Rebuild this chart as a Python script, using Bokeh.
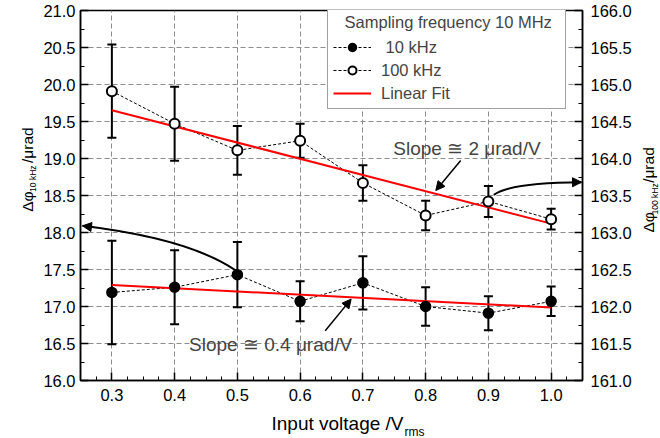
import math
from bokeh.plotting import figure
from bokeh.layouts import row, column
from bokeh.models import (Range1d, LinearAxis, Whisker, ColumnDataSource, Legend, LegendItem,
                          Label, Arrow, NormalHead, TeeHead, FixedTicker, PrintfTickFormatter)
from bokeh.embed import file_html
from bokeh.resources import INLINE

# ---------------- data ----------------
voltage = [0.3, 0.4, 0.5, 0.6, 0.7, 0.8, 0.9, 1.0]
phi_10k = [17.19, 17.26, 17.43, 17.07, 17.32, 17.00, 16.91, 17.07]
err_10k = [0.70, 0.50, 0.44, 0.27, 0.36, 0.26, 0.23, 0.20]
phi_100k = [164.91, 164.47, 164.11, 164.24, 163.67, 163.23, 163.42, 163.18]
err_100k = [0.63, 0.50, 0.33, 0.23, 0.24, 0.20, 0.21, 0.14]
fit_10k = [17.42, -0.434]    # intercept, slope
fit_100k = [165.31, -2.19]   # intercept, slope

x_ticks = [0.3, 0.4, 0.5, 0.6, 0.7, 0.8, 0.9, 1.0]
left_ticks = [16.0, 16.5, 17.0, 17.5, 18.0, 18.5, 19.0, 19.5, 20.0, 20.5, 21.0]
right_ticks = [161.0, 161.5, 162.0, 162.5, 163.0, 163.5, 164.0, 164.5, 165.0, 165.5, 166.0]

legend_title = "Sampling frequency 10 MHz"
legend_labels = [" 10 kHz", "100 kHz", "Linear Fit"]
slope_texts = ["Slope \u2245 2 \u03bcrad/V", "Slope \u2245 0.4 \u03bcrad/V"]
x_title = ["Input voltage /V", "rms"]
left_title = ["\u0394\u03c6", "10 kHz", "/\u03bcrad"]
right_title = ["\u0394\u03c6", "100 kHz", "/\u03bcrad"]

FONT = "Liberation Sans"

# ---------------- layout sizes ----------------
LW = 38                 # left title strip
BL, BR, BT, BB = 42, 50, 10, 30
FW, FH = 504, 370
PW, PH = BL + FW + BR, BT + FH + BB
RW = 660 - LW - PW      # right title strip
BH = 438 - PH           # bottom title strip
XR = (0.25, 1.05)
YR = (16.0, 21.0)
RIGHT_OFFSET = 145.0

p = figure(width=PW, height=PH, x_range=Range1d(*XR), y_range=Range1d(*YR),
           output_backend="svg", toolbar_location=None,
           min_border_left=BL, min_border_right=BR, min_border_top=BT, min_border_bottom=BB)
p.extra_y_ranges = {"right": Range1d(YR[0] + RIGHT_OFFSET, YR[1] + RIGHT_OFFSET)}
p.background_fill_color = "white"
p.border_fill_color = "white"
p.outline_line_color = "black"
p.outline_line_width = 1.5
p.outline_line_alpha = 1.0

p.xaxis[0].ticker = FixedTicker(ticks=x_ticks,
                                minor_ticks=[round(0.25 + 0.025 * i, 3) for i in range(33)])
p.yaxis[0].ticker = FixedTicker(ticks=left_ticks,
                                minor_ticks=[16.0 + 0.25 * i for i in range(21)])
right_axis = LinearAxis(y_range_name="right",
                        ticker=FixedTicker(ticks=right_ticks,
                                           minor_ticks=[161.0 + 0.25 * i for i in range(21)]))
p.add_layout(right_axis, "right")

for ax in [p.xaxis[0], p.yaxis[0], right_axis]:
    ax.formatter = PrintfTickFormatter(format="%.1f")
    ax.axis_line_width = 1.5
    ax.axis_line_color = "black"
    ax.major_tick_in = 8
    ax.major_tick_out = 0
    ax.minor_tick_in = 4
    ax.minor_tick_out = 0
    ax.major_tick_line_width = 1.5
    ax.minor_tick_line_width = 1
    ax.major_tick_line_color = "black"
    ax.minor_tick_line_color = "black"
    ax.major_label_text_font = FONT
    ax.major_label_text_font_size = "16.5px"
    ax.major_label_text_color = "black"
p.xaxis[0].major_label_standoff = 8
p.yaxis[0].major_label_standoff = 5
right_axis.major_label_standoff = 8

for g in [p.xgrid[0], p.ygrid[0]]:
    g.grid_line_dash = "5 3"
    g.grid_line_color = "#8c8c8c"
    g.grid_line_width = 1

# ---------------- sources ----------------
src10 = ColumnDataSource(dict(x=voltage, y=phi_10k,
                              upper=[v + e for v, e in zip(phi_10k, err_10k)],
                              lower=[v - e for v, e in zip(phi_10k, err_10k)]))
src100 = ColumnDataSource(dict(x=voltage, y=phi_100k,
                               upper=[v + e for v, e in zip(phi_100k, err_100k)],
                               lower=[v - e for v, e in zip(phi_100k, err_100k)]))

for src, rng in [(src10, "default"), (src100, "right")]:
    w = Whisker(source=src, base="x", upper="upper", lower="lower",
                line_width=2, line_color="black", level="underlay",
                upper_head=TeeHead(size=9, line_width=2, line_color="black"),
                lower_head=TeeHead(size=9, line_width=2, line_color="black"),
                y_range_name=rng)
    p.add_layout(w)

r10_line = p.line("x", "y", source=src10, line_dash="3 2", line_width=1, line_color="black")
r100_line = p.line("x", "y", source=src100, line_dash="3 2", line_width=1, line_color="black",
                   y_range_name="right")

fit_x = [voltage[0], voltage[-1]]
fit10 = p.line(fit_x, [fit_10k[0] + fit_10k[1] * v for v in fit_x], line_color="red", line_width=2)
fit100 = p.line(fit_x, [fit_100k[0] + fit_100k[1] * v for v in fit_x], line_color="red",
                line_width=2, y_range_name="right")

r10_pts = p.scatter("x", "y", source=src10, marker="circle", size=10,
                    fill_color="black", line_color="black", line_width=1.5)
r100_pts = p.scatter("x", "y", source=src100, marker="circle", size=10,
                     fill_color="white", line_color="black", line_width=2, y_range_name="right")

# ---------------- annotations: curved and straight arrows ----------------
def quad_pt(p0, p1, p2, t):
    return tuple((1 - t) ** 2 * a + 2 * (1 - t) * t * b + t ** 2 * c for a, b, c in zip(p0, p1, p2))

curves = [
    ((0.497, 17.49), (0.4222, 17.917), (0.2532, 18.09)),
    ((0.9087, 18.509), (0.9357, 18.676), (1.0484, 18.68)),
]
for p0, p1, p2 in curves:
    p.quadratic(x0=[p0[0]], y0=[p0[1]], x1=[p2[0]], y1=[p2[1]], cx=[p1[0]], cy=[p1[1]],
                line_color="black", line_width=2)
    s = quad_pt(p0, p1, p2, 0.93)
    p.add_layout(Arrow(x_start=s[0], y_start=s[1], x_end=p2[0], y_end=p2[1],
                       line_width=1, line_color="black",
                       end=NormalHead(size=9, fill_color="black", line_color="black", line_width=1)))

straight = [((0.8559, 18.974), (0.8162, 18.568)), ((0.64, 16.671), (0.6813, 17.10))]
for (xs, ys), (xe, ye) in straight:
    p.add_layout(Arrow(x_start=xs, y_start=ys, x_end=xe, y_end=ye, line_width=1.5,
                       line_color="black",
                       end=NormalHead(size=9, fill_color="black", line_color="black", line_width=1)))

p.add_layout(Label(x=0.7484, y=19.133, text=slope_texts[0], text_font=FONT,
                   text_font_size="19px", text_baseline="alphabetic", text_align="left"))
p.add_layout(Label(x=0.423, y=16.49, text=slope_texts[1], text_font=FONT,
                   text_font_size="19px", text_baseline="alphabetic", text_align="left"))

# ---------------- legend ----------------
legend = Legend(items=[LegendItem(label=legend_labels[0], renderers=[r10_line, r10_pts]),
                       LegendItem(label=legend_labels[1], renderers=[r100_line, r100_pts]),
                       LegendItem(label=legend_labels[2], renderers=[fit10])],
                location=(247, FH - 99), title="\u2002\u2009" + legend_title + "\u2002",
                title_text_font=FONT, title_text_font_size="16.5px", title_text_font_style="normal",
                title_standoff=5,
                label_text_font=FONT, label_text_font_size="16.5px",
                glyph_width=38, glyph_height=20, label_standoff=10, spacing=3,
                padding=5, margin=0,
                border_line_color="#444444", border_line_width=1,
                background_fill_color="white", background_fill_alpha=1.0)
p.add_layout(legend)

# ---------------- title strips (texts with subscripts) ----------------
def strip(w, h):
    f = figure(width=w, height=h, x_range=Range1d(0, w), y_range=Range1d(0, h),
               output_backend="svg", toolbar_location=None, min_border=0,
               x_axis_location=None, y_axis_location=None)
    f.xgrid.visible = False
    f.ygrid.visible = False
    f.outline_line_color = None
    f.background_fill_color = "white"
    f.border_fill_color = "white"
    return f

def put(f, x, y, text, size, angle=0.0):
    f.add_layout(Label(x=x, y=y, text=text, text_font=FONT, text_font_size=size,
                       text_baseline="alphabetic", text_align="left", angle=angle,
                       text_color="black"))

A = math.pi / 2
left_fig = strip(LW, PH)      # x = page x, y = PH - page y
put(left_fig, 26.5, PH - 223, left_title[0], "15.5px", A)
put(left_fig, 32.5, PH - 201, left_title[1], "8.5px", A)
put(left_fig, 26.5, PH - 169, left_title[2], "15.5px", A)

right_fig = strip(RW, PH)     # x = page x - (LW + PW)
x0r = LW + PW
put(right_fig, 648 - x0r, PH - 246, right_title[0], "15.5px", A)
put(right_fig, 654 - x0r, PH - 226, right_title[1], "8.5px", A)
put(right_fig, 648 - x0r, PH - 191, right_title[2], "15.5px", A)

bottom_fig = strip(660, BH)   # y = 438 - page y
put(bottom_fig, 271, 438 - 423, x_title[0], "19px")
put(bottom_fig, 404, 438 - 431, x_title[1], "12px")

layout = column(row(left_fig, p, right_fig), bottom_fig)

open("out.html", "w").write(file_html(layout, INLINE))
